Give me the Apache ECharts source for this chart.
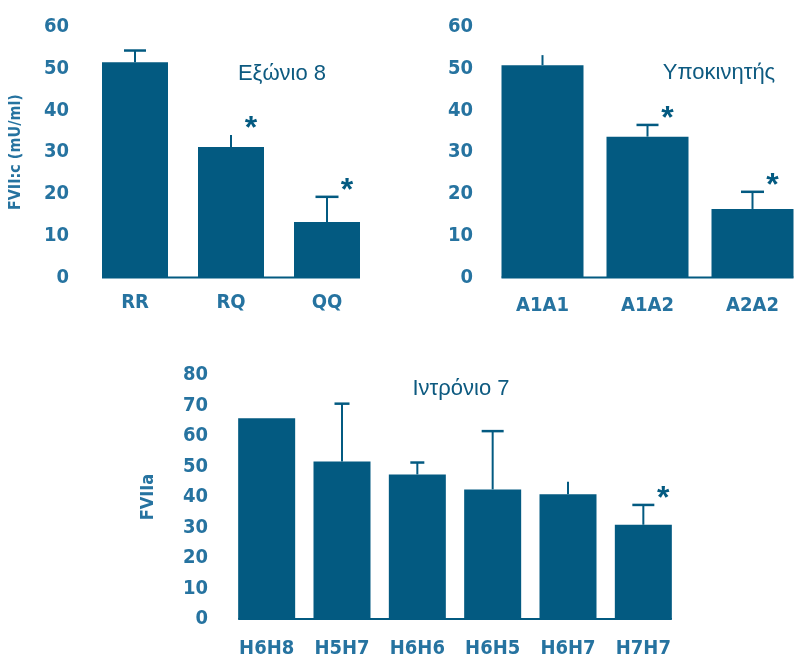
<!DOCTYPE html>
<html>
<head>
<meta charset="utf-8">
<script src="https://cdn.jsdelivr.net/npm/echarts@6/dist/echarts.min.js"></script>
<style>
  html, body { margin: 0; padding: 0; background: #ffffff; }
  #chart { width: 805px; height: 659px; }
</style>
</head>
<body>
<div id="chart"></div>
<script>
// FVII levels by genotype: exon 8, promoter and intron 7 polymorphisms
const exonCats = ['RR', 'RQ', 'QQ'];
const exonMean = [51.5, 31.2, 13.3];
const exonSd = [2.8, 2.9, 6.0];
const exonSig = [false, true, true];

const promoterCats = ['A1A1', 'A1A2', 'A2A2'];
const promoterMean = [50.8, 33.7, 16.4];
const promoterSd = [2.4, 2.8, 4.1];
const promoterSig = [false, true, true];

const intronCats = ['H6H8', 'H5H7', 'H6H6', 'H6H5', 'H6H7', 'H7H7'];
const intronMean = [65.8, 51.6, 47.4, 42.5, 40.9, 30.9];
const intronSd = [0, 19.0, 3.9, 19.1, 4.1, 6.5];
const intronSig = [false, false, false, false, false, true];

const exonTicks = [0, 60, 10];
const promoterTicks = [0, 60, 10];
const intronTicks = [0, 80, 10];

const BAR = '#035a81';
const LABEL = '#2673a0';
const FONT = '"DejaVu Sans Condensed", "Liberation Sans", Arial, sans-serif';

const panels = [
  { cats: exonCats, mean: exonMean, sd: exonSd, sig: exonSig, ticks: exonTicks,
    grid: { left: 87, top: 26.7, width: 288, height: 250.8 },
    barWidth: 66, caps: [22, 0, 23], labelMargin: 18, catMargin: 15,
    name: 'FVII:c (mU/ml)', nameGap: 63, nameSize: 16,
    title: { text: 'Εξώνιο 8', x: 282, y: 74 } },
  { cats: promoterCats, mean: promoterMean, sd: promoterSd, sig: promoterSig, ticks: promoterTicks,
    grid: { left: 490, top: 26.7, width: 337.5, height: 250.8 },
    barWidth: 82, caps: [0, 22, 23], labelMargin: 17, catMargin: 18,
    name: '', nameGap: 0, nameSize: 16,
    title: { text: 'Υποκινητής', x: 719, y: 73 } },
  { cats: intronCats, mean: intronMean, sd: intronSd, sig: intronSig, ticks: intronTicks,
    grid: { left: 229, top: 375, width: 452, height: 247.5 },
    barWidth: 57, caps: [0, 15, 14, 22, 0, 22], labelMargin: 21, catMargin: 20,
    name: 'FVIIa', nameGap: 72, nameSize: 18,
    title: { text: 'Ιντρόνιο 7', x: 461, y: 389 } }
];

// Error whisker, optional cap and significance star above each bar
function errorRenderer(panel) {
  return function (params, api) {
    const i = api.value(0);
    const m = api.value(1);
    const sd = api.value(2);
    const sig = api.value(3);
    const base = api.coord([i, m]);
    const top = api.coord([i, m + sd]);
    const children = [];
    if (sd > 0) {
      children.push({
        type: 'line',
        shape: { x1: base[0], y1: base[1], x2: top[0], y2: top[1] },
        style: { stroke: BAR, lineWidth: 2 }
      });
      const cw = panel.caps[i];
      if (cw > 0) {
        children.push({
          type: 'line',
          shape: { x1: top[0] - cw / 2, y1: top[1], x2: top[0] + cw / 2, y2: top[1] },
          style: { stroke: BAR, lineWidth: 2.5 }
        });
      }
    }
    if (sig) {
      children.push({
        type: 'text',
        style: {
          text: '*', x: top[0] + 20, y: top[1] - 6,
          fill: BAR, fontSize: 32, fontWeight: 'bold',
          fontFamily: 'Liberation Sans, Arial, sans-serif',
          align: 'center', verticalAlign: 'middle'
        }
      });
    }
    return { type: 'group', children: children };
  };
}

// Baseline running from the first bar's left edge to the last bar's right edge
function baselineRenderer(panel) {
  return function (params, api) {
    const n = panel.cats.length;
    const a = api.coord([0, 0]);
    const b = api.coord([n - 1, 0]);
    return {
      type: 'line',
      shape: { x1: a[0] - panel.barWidth / 2, y1: a[1], x2: b[0] + panel.barWidth / 2, y2: b[1] },
      style: { stroke: BAR, lineWidth: 2 }
    };
  };
}

const option = {
  animation: false,
  backgroundColor: '#ffffff',
  grid: [], xAxis: [], yAxis: [], series: [], graphic: []
};

panels.forEach(function (p, k) {
  option.grid.push(Object.assign({ containLabel: false }, p.grid));
  option.xAxis.push({
    type: 'category', gridIndex: k, data: p.cats, boundaryGap: true,
    axisLine: { show: false }, axisTick: { show: false }, splitLine: { show: false },
    axisLabel: { margin: p.catMargin, fontSize: 20, fontWeight: 'bold', color: LABEL, fontFamily: FONT, interval: 0 }
  });
  option.yAxis.push({
    type: 'value', gridIndex: k, min: p.ticks[0], max: p.ticks[1], interval: p.ticks[2],
    axisLine: { show: false }, axisTick: { show: false }, splitLine: { show: false },
    axisLabel: { margin: p.labelMargin, fontSize: 20, fontWeight: 'bold', color: LABEL, fontFamily: FONT },
    name: p.name, nameLocation: 'middle', nameGap: p.nameGap, nameRotate: 90,
    nameTextStyle: { fontSize: p.nameSize, fontWeight: 'bold', color: LABEL, fontFamily: FONT }
  });
  option.series.push({
    type: 'custom', xAxisIndex: k, yAxisIndex: k, z: 1,
    renderItem: baselineRenderer(p), data: [[0, 0]], silent: true
  });
  option.series.push({
    type: 'bar', xAxisIndex: k, yAxisIndex: k, z: 2,
    data: p.mean, barWidth: p.barWidth,
    itemStyle: { color: BAR }, silent: true
  });
  option.series.push({
    type: 'custom', xAxisIndex: k, yAxisIndex: k, z: 3,
    renderItem: errorRenderer(p), silent: true,
    data: p.mean.map(function (m, i) { return [i, m, p.sd[i], p.sig[i] ? 1 : 0]; })
  });
  option.graphic.push({
    type: 'text', x: p.title.x, y: p.title.y,
    style: {
      text: p.title.text, fill: '#0d5a80', fontSize: 22,
      fontFamily: '"Liberation Sans", Arial, sans-serif',
      align: 'center', verticalAlign: 'middle'
    }
  });
});

const chart = echarts.init(document.getElementById('chart'), null, { renderer: 'canvas' });
chart.setOption(option);
</script>
</body>
</html>
